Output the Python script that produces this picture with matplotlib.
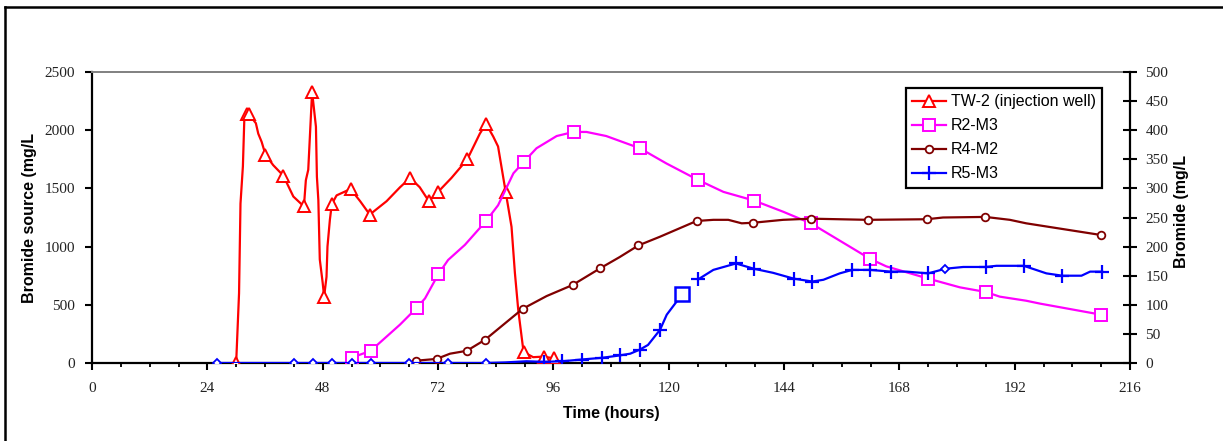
import matplotlib.pyplot as plt
import numpy as np
from matplotlib.lines import Line2D
from matplotlib.ticker import MultipleLocator

# TW-2 (injection well), left axis, mg/L
tw2_t = [30, 30.6, 30.9, 31.4, 31.7, 32.2, 32.6, 34.1, 34.6, 35.3, 36.1, 37.7, 39.8, 41.9,
         44.1, 44.5, 45.0, 45.8, 46.6, 46.8, 47.1, 47.4, 48.0, 48.3, 48.8, 49.0, 49.5, 49.9,
         50.9, 53.8, 55.8, 57.8, 61.3, 64.1, 66.2, 68.2, 70.1, 71.9, 74.8, 78.1, 80.7, 82.0,
         83.5, 84.5, 86.1, 87.3, 88.0, 88.7, 89.8, 91.8, 94.0, 96.1, 96.8]
tw2_c = [0, 600, 1370, 1690, 2100, 2140, 2140, 2060, 1970, 1900, 1790, 1700, 1610, 1430,
         1345, 1570, 1660, 2330, 2030, 1600, 1400, 890, 690, 570, 740, 1000, 1230, 1365,
         1440, 1495, 1390, 1275, 1390, 1510, 1590, 1510, 1390, 1465, 1590, 1750, 1970, 2055,
         1945, 1860, 1465, 1170, 775, 455, 95, 50, 55, 40, 0]
tw2_mk = [0, 5, 6, 10, 12, 14, 17, 23, 27, 29, 31, 34, 36, 37, 39, 41, 44, 48, 50, 51]

# R2-M3, right axis
r2_t = [54.0, 58.0, 64.1, 67.6, 69.3, 72.1, 74.1, 77.6, 82.0, 84.5, 87.7, 89.9, 92.5, 96.7,
        100.2, 102.9, 107.0, 114.0, 119.5, 126.0, 131.4, 137.8, 143.8, 149.6, 161.9, 165.3,
        174.0, 180.6, 186.0, 188.9, 194.4, 197.3, 210.0]
r2_c = [9, 21, 66, 95, 111, 153, 177, 203, 244, 271, 326, 346, 369, 390,
        397, 397, 390, 369, 343, 315, 294, 279, 260, 240, 179, 166,
        145, 130, 122, 114, 107, 102, 83]
r2_mk = [0, 1, 3, 5, 8, 11, 14, 17, 19, 21, 23, 24, 26, 28, 32]

# R4-M2, right axis
r4_t = [67.5, 71.7, 74.5, 78.0, 81.8, 89.6, 94.6, 100.0, 105.8, 109.8, 113.7, 118.2, 125.8,
        129.3, 132.4, 135.2, 137.6, 143.8, 149.6, 161.4, 173.7, 177.1, 185.9, 191.0, 194.4, 209.9]
r4_c = [4, 7, 16, 21, 40, 93, 115, 134, 163, 182, 202, 217, 244,
        246, 246, 240, 241, 246, 248, 246, 247, 250, 251, 246, 240, 220]
r4_mk = [0, 1, 3, 4, 5, 7, 8, 10, 12, 16, 18, 19, 20, 22, 25]

# R5-M3, right axis (nan = gap in the line)
r5_t = [26, 42, 46, 50, 54, 58, 66, 74, 82, 86, 90.4, 94.0, 97.9, 101.9, 106.2, 109.8, 112.0,
        114.0, 115.7, 118.2, 119.6, 121.7, 122.8, 124.5, 126.2, 129.3, 134.0, 137.7, 141.7,
        146.0, 149.9, 152.2, 155.6, 158.2, 161.9, 166.2, 169.5, 174.0, 177.6, 181.3, 186.0,
        188.2, 193.9, 198.6, 201.9, 205.9, 207.7, 210.2]
r5_c = [0, 0, 0, 0, 0, 0, 0, 0, 0, 1, 3, 2, 3, 6, 9, 13, 16,
        23, 31, 57, 83, 106, 119, np.nan, 144, 160, 171, 162, 155,
        145, 140, 143, 154, 160, 160, 157, 157, 154, 162, 165, 165,
        167, 167, 154, 150, 150, 157, 157]
r5_plus = [11, 12, 13, 14, 15, 17, 19, 24, 26, 27, 29, 30, 33, 34, 35, 37, 40, 42, 44, 47]
r5_diamond = [0, 1, 2, 3, 4, 5, 6, 7, 8, 38]
r5_square = [22]

W, H = 1223, 441
fig = plt.figure(figsize=(W / 100, H / 100), dpi=100)
L, R, T, B = 92, 1130, 72, 363
ax = fig.add_axes([L / W, 1 - B / H, (R - L) / W, (B - T) / H])
ax2 = ax.twinx()

serif = 'Liberation Serif'
sans = 'Liberation Sans'

ax.plot(tw2_t, tw2_c, color='#FF0000', lw=1.6, marker='^', ms=9, mfc='white', mec='#FF0000',
        mew=1.4, markevery=tw2_mk, label='TW-2 (injection well)', zorder=3)

r2_line, = ax2.plot(r2_t, r2_c, color='#FF00FF', lw=1.6, marker='s', ms=8, mfc='white',
                    mec='#FF00FF', mew=1.4, markevery=r2_mk, label='R2-M3')
r4_line, = ax2.plot(r4_t, r4_c, color='#800000', lw=1.6, marker='o', ms=5.5, mfc='white',
                    mec='#800000', mew=1.3, markevery=r4_mk, label='R4-M2')
r5_line, = ax2.plot(r5_t, r5_c, color='#0000FF', lw=1.6, marker='+', ms=10, mew=1.6,
                    markevery=r5_plus, label='R5-M3')
r5_t_arr = np.array(r5_t)
r5_c_arr = np.array(r5_c)
ax2.plot(r5_t_arr[r5_diamond], r5_c_arr[r5_diamond], ls='none', marker='D', ms=4.5,
         mfc='white', mec='#0000FF', mew=1.3)
ax2.plot(r5_t_arr[r5_square], r5_c_arr[r5_square], ls='none', marker='s', ms=10.5,
         mfc='white', mec='#0000FF', mew=1.8)

ax.set_xlim(0, 216)
ax.set_ylim(0, 2500)
ax2.set_ylim(0, 500)
ax.xaxis.set_major_locator(MultipleLocator(24))
ax.xaxis.set_minor_locator(MultipleLocator(6))
ax.yaxis.set_major_locator(MultipleLocator(500))
ax2.yaxis.set_major_locator(MultipleLocator(50))

for a in (ax, ax2):
    for s in a.spines.values():
        s.set_visible(False)
ax.spines['left'].set_visible(True)
ax.spines['bottom'].set_visible(True)
ax.spines['top'].set_visible(True)
ax2.spines['right'].set_visible(True)
ax.spines['left'].set_linewidth(1.6)
ax.spines['bottom'].set_linewidth(1.6)
ax.spines['top'].set_linewidth(1.4)
ax.spines['top'].set_color('#808080')
ax2.spines['right'].set_linewidth(1.6)

ax.tick_params(axis='x', which='major', direction='out', length=5, width=1.5, pad=9,
               labelsize=11, labelcolor='#222222')
ax.tick_params(axis='x', which='minor', direction='out', length=3, width=1.3)
ax.tick_params(axis='y', direction='out', length=5, width=1.5, pad=7, labelsize=11,
               labelcolor='#222222')
ax2.tick_params(axis='y', direction='inout', length=10, width=1.5, pad=6, labelsize=11,
                labelcolor='#222222')
for lab in ax.get_xticklabels() + ax.get_yticklabels() + ax2.get_yticklabels():
    lab.set_fontfamily(serif)

ax.set_xlabel('Time (hours)', fontfamily=sans, fontweight='bold', fontsize=11.5)
ax.xaxis.set_label_coords(0.5, -0.148)
ax.set_ylabel('Bromide source (mg/L', fontfamily=sans, fontweight='bold', fontsize=11.5)
ax.yaxis.set_label_coords(-0.053, 0.5)
ax2.set_ylabel('Bromide (mg/L', fontfamily=sans, fontweight='bold', fontsize=11.5)
ax2.yaxis.set_label_coords(1.042, 0.52)

handles = [ax.get_lines()[0], r2_line, r4_line, r5_line]
leg = ax2.legend(handles=handles, loc='upper left', bbox_to_anchor=(906 / W, 1 - 88 / H),
                 bbox_transform=fig.transFigure, prop={'family': sans, 'size': 11.5},
                 numpoints=1, handlelength=2.1, handletextpad=0.3, labelspacing=0.56,
                 borderpad=0.4, fancybox=False, framealpha=1, edgecolor='black',
                 borderaxespad=0)
leg.get_frame().set_linewidth(1.6)

# outer chart border (top and left edges visible)
fig.add_artist(Line2D([5 / W, 1.0], [1 - 7 / H, 1 - 7 / H], color='black', lw=1.8,
                      transform=fig.transFigure))
fig.add_artist(Line2D([5 / W, 5 / W], [0, 1 - 7 / H], color='black', lw=1.8,
                      transform=fig.transFigure))

fig.savefig('out.png', dpi=100)
